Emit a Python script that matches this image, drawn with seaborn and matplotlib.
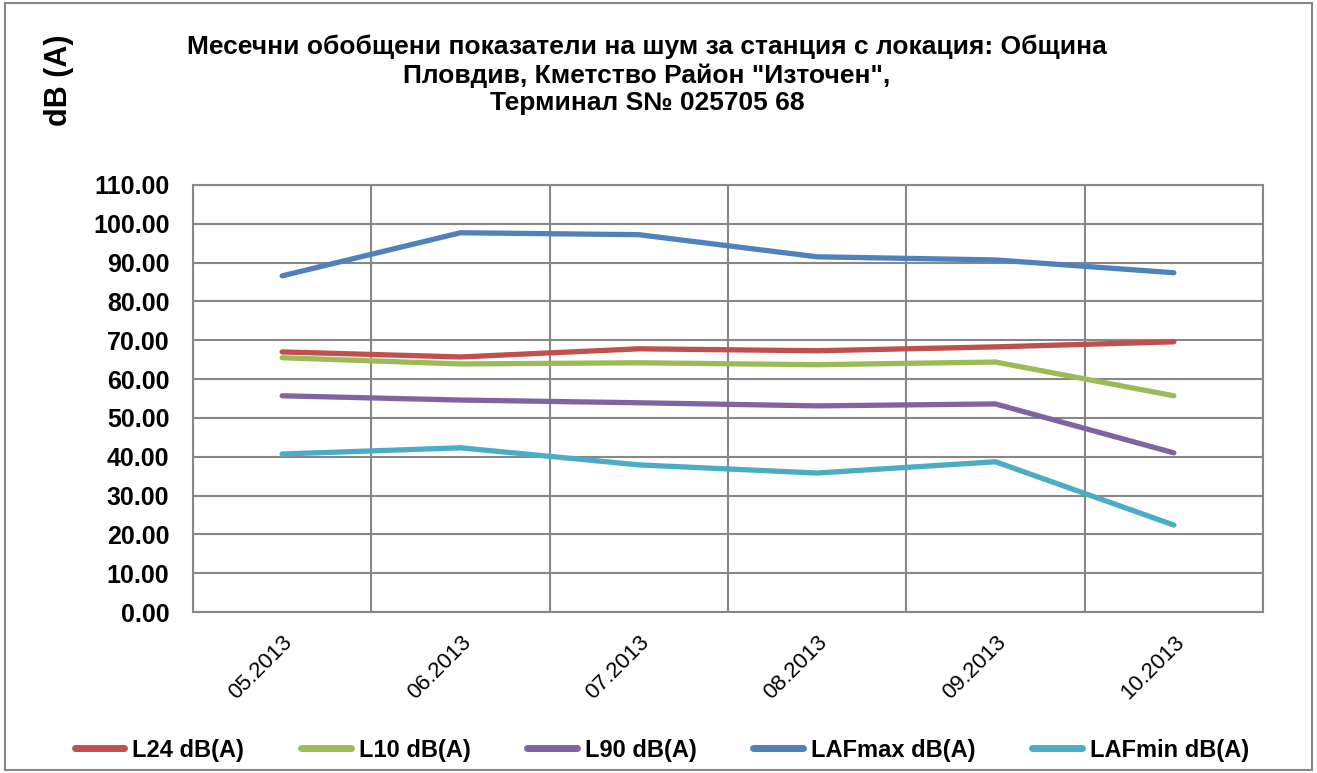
import matplotlib
matplotlib.use("Agg")
import matplotlib.pyplot as plt
import numpy as np
import pandas as pd
import seaborn as sns
from matplotlib.patches import Rectangle
from matplotlib.ticker import FixedLocator

months = ["05.2013", "06.2013", "07.2013", "08.2013", "09.2013", "10.2013"]
l24 = [67.0, 65.7, 67.8, 67.3, 68.3, 69.6]
l10 = [65.5, 63.9, 64.2, 63.7, 64.4, 55.7]
l90 = [55.7, 54.6, 53.9, 53.1, 53.6, 41.0]
lafmax = [86.6, 97.7, 97.2, 91.5, 90.7, 87.4]
lafmin = [40.7, 42.3, 37.9, 35.8, 38.7, 22.4]

series_names = ["L24 dB(A)", "L10 dB(A)", "L90 dB(A)", "LAFmax dB(A)", "LAFmin dB(A)"]
colors = ["#C0504D", "#9BBB59", "#8064A2", "#4F81BD", "#4BACC6"]

rows = []
for name, vals in zip(series_names, [l24, l10, l90, lafmax, lafmin]):
    for i, v in enumerate(vals):
        rows.append({"pos": i, "month": months[i], "series": name, "value": v})
df = pd.DataFrame(rows)

sns.set_style("white")
plt.rcParams["font.family"] = ["Liberation Sans", "DejaVu Sans"]
plt.rcParams["text.color"] = "black"
plt.rcParams["xtick.color"] = "black"
plt.rcParams["ytick.color"] = "black"

fig = plt.figure(figsize=(13.17, 7.73), dpi=100)
ax = fig.add_axes([193 / 1317, 1 - 612 / 773, (1263 - 193) / 1317, (612 - 185) / 773])

sns.lineplot(data=df, x="pos", y="value", hue="series", hue_order=series_names,
             palette=colors, linewidth=3.8, ax=ax, legend=True)
for line in ax.lines:
    line.set_solid_capstyle("round")
    line.set_solid_joinstyle("round")

ax.set_xlim(-0.5, 5.5)
ax.set_ylim(0, 110)
ax.set_yticks(np.arange(0, 111, 10))
ax.set_yticklabels([f"{v:.2f}" for v in np.arange(0, 111, 10)], fontsize=18, fontweight="bold")
ax.set_xticks(range(len(months)))
ax.set_xticklabels(months, rotation=45, ha="right", rotation_mode="anchor", fontsize=16)
ax.xaxis.set_minor_locator(FixedLocator(np.arange(-0.5, 6, 1)))
ax.tick_params(axis="x", which="major", length=0, pad=14)
ax.tick_params(axis="y", length=0, pad=17)
ax.tick_params(axis="x", which="minor", length=0)
ax.grid(axis="y", which="major", color="#878787", linewidth=1.5)
ax.grid(axis="x", which="minor", color="#878787", linewidth=1.5)
ax.grid(axis="x", which="major", visible=False)
ax.set_axisbelow(True)
for s in ax.spines.values():
    s.set_color("#878787")
    s.set_linewidth(1.5)
ax.set_xlabel("")
ax.set_ylabel("")

fig.text(59 / 1317, 1 - 80 / 773, "dB (A)", rotation=90, fontsize=22, fontweight="bold",
         ha="center", va="center")
fig.text(647 / 1317, 1 - 75 / 773,
         "Месечни обобщени показатели на шум за станция с локация: Община\n"
         "Пловдив, Кметство Район \"Източен\",\nТерминал S№ 025705 68",
         fontsize=19, fontweight="bold", ha="center", va="center", linespacing=1.2)

handles, labels = ax.get_legend_handles_labels()
ax.get_legend().remove()
leg = fig.legend(handles, labels, loc="center", bbox_to_anchor=(662 / 1317, 1 - 750 / 773),
                 ncol=5, frameon=False, prop={"weight": "bold", "size": 17},
                 handlelength=2.1, handletextpad=0.35, columnspacing=2.4)
for h in leg.get_lines():
    h.set_linewidth(5)

fig.patches.append(Rectangle((0.004, 0.004), 0.992, 0.992, transform=fig.transFigure,
                             fill=False, edgecolor="#878787", linewidth=1.5))

fig.savefig("out.png", dpi=100)
